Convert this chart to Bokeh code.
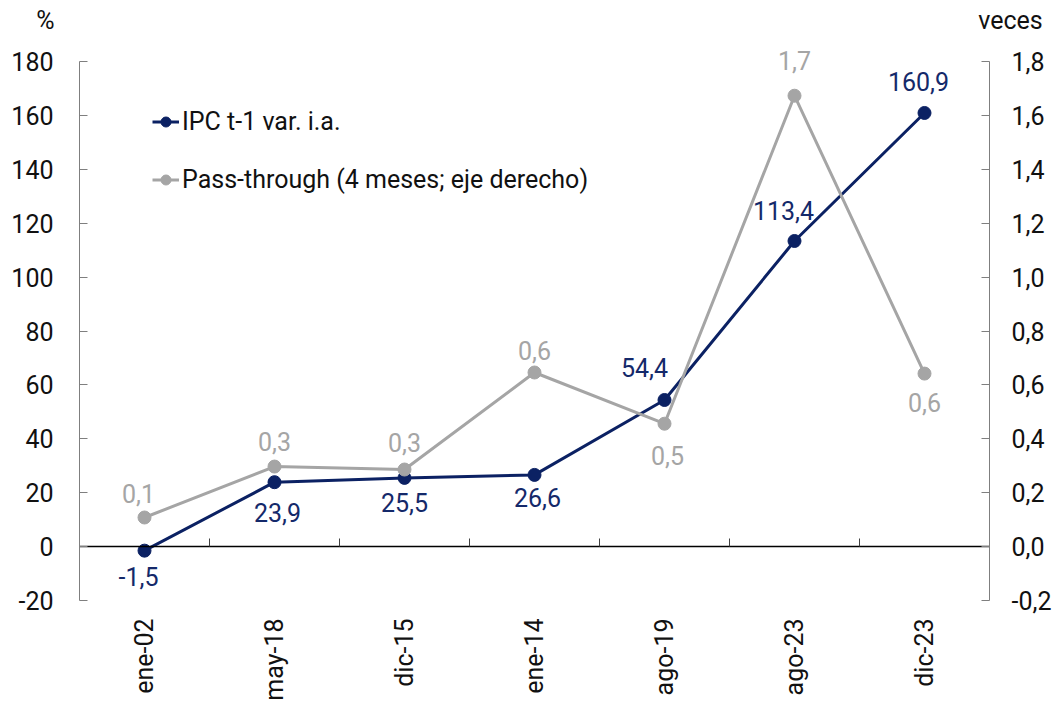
import math
from bokeh.plotting import figure
from bokeh.models import (Range1d, LinearAxis, Legend, LegendItem, Label,
                          FixedTicker, ColumnDataSource)
from bokeh.core.properties import value
from bokeh.embed import file_html
from bokeh.resources import INLINE

# ---- data ----
categories = ["ene-02", "may-18", "dic-15", "ene-14", "ago-19", "ago-23", "dic-23"]
ipc = [-1.5, 23.9, 25.5, 26.6, 54.4, 113.4, 160.9]
passthrough = [0.108, 0.297, 0.286, 0.646, 0.456, 1.673, 0.642]
ipc_labels = ["-1,5", "23,9", "25,5", "26,6", "54,4", "113,4", "160,9"]
pass_labels = ["0,1", "0,3", "0,3", "0,6", "0,5", "1,7", "0,6"]
left_ticks = [-20, 0, 20, 40, 60, 80, 100, 120, 140, 160, 180]
right_ticks = [-0.2, 0.0, 0.2, 0.4, 0.6, 0.8, 1.0, 1.2, 1.4, 1.6, 1.8]
LEFT_MIN, LEFT_MAX = -20, 180
RIGHT_MIN, RIGHT_MAX = -0.2, 1.8

# label offsets (screen px)
ipc_dx = [-6, 3, 0, 3, -20, -11, -6]
ipc_dy = [26, 30, 25, 23, -32, -30, -31]
pass_dx = [-6, 0, 0, 0, 3, 0, 0]
pass_dy = [-24, -25, -27, -22, 32, -35, 29]

NAVY = "#0b2163"
NAVY_TXT = "#14296a"
GRAY = "#a5a5a5"
AXIS = "#7f7f7f"
FONT = "Roboto"
FS = "25px"

# ---- layout (pixels) ----
W, H = 1056, 700
AX_L, AX_R, AX_T, AX_B = 79, 989, 61, 600   # plot area inside the canvas

n = len(categories)
xs = [i + 0.5 for i in range(n)]
pxu = (AX_R - AX_L) / n
pyu = (AX_B - AX_T) / (LEFT_MAX - LEFT_MIN)
x0 = -AX_L / pxu
x1 = n + (W - AX_R) / pxu
y1 = LEFT_MAX + AX_T / pyu
y0 = LEFT_MIN - (H - AX_B) / pyu
k = (RIGHT_MAX - RIGHT_MIN) / (LEFT_MAX - LEFT_MIN)

p = figure(width=W, height=H,
           x_range=Range1d(x0, x1), y_range=Range1d(y0, y1),
           output_backend="svg", toolbar_location=None,
           min_border=0, min_border_left=0, min_border_right=0,
           min_border_top=0, min_border_bottom=0,
           x_axis_location=None, y_axis_location=None)
p.outline_line_color = None
p.xgrid.visible = False
p.ygrid.visible = False
p.background_fill_color = "white"
p.border_fill_color = "white"
p.extra_y_ranges = {"right": Range1d(RIGHT_MIN + (y0 - LEFT_MIN) * k,
                                     RIGHT_MIN + (y1 - LEFT_MIN) * k)}

# left axis
la = LinearAxis(ticker=FixedTicker(ticks=left_ticks), fixed_location=0,
                bounds=(LEFT_MIN, LEFT_MAX))
la.major_label_overrides = {t: str(t) for t in left_ticks}
# right axis
ra = LinearAxis(y_range_name="right", ticker=FixedTicker(ticks=right_ticks),
                fixed_location=n, bounds=(RIGHT_MIN, RIGHT_MAX))
ra.major_label_overrides = {t: f"{t:.1f}".replace(".", ",") for t in right_ticks}
for ax in (la, ra):
    ax.axis_line_color = AXIS
    ax.major_tick_line_color = AXIS
    ax.major_tick_in = 8
    ax.major_tick_out = 0
    ax.minor_tick_line_color = None
    ax.major_label_text_font = FONT
    ax.major_label_text_font_size = FS
    ax.major_label_text_color = "#111111"
la.major_label_standoff = 26
ra.major_label_standoff = 22
p.add_layout(la, "left")
p.add_layout(ra, "right")

# bottom category labels
ba = LinearAxis(ticker=FixedTicker(ticks=xs), fixed_location=LEFT_MIN)
ba.major_label_overrides = {x: c for x, c in zip(xs, categories)}
ba.axis_line_color = None
ba.major_tick_line_color = None
ba.minor_tick_line_color = None
ba.major_tick_in = 0
ba.major_tick_out = 0
ba.major_label_orientation = math.pi / 2
ba.major_label_standoff = 18
ba.major_label_text_font = FONT
ba.major_label_text_font_size = FS
ba.major_label_text_color = "#111111"
p.add_layout(ba, "below")

# zero line with category separator ticks
za = LinearAxis(ticker=FixedTicker(ticks=list(range(1, n))), fixed_location=0,
                bounds=(0, n))
za.axis_line_color = "#000000"
za.axis_line_width = 1.5
za.major_tick_line_color = "#404040"
za.major_tick_in = 8
za.major_tick_out = 0
za.minor_tick_line_color = None
za.major_label_text_color = None
za.major_label_text_font_size = "1px"
p.add_layout(za, "below")

# series
l1 = p.line(xs, ipc, line_color=NAVY, line_width=3)
s1 = p.scatter(xs, ipc, size=13, fill_color=NAVY, line_color=NAVY)
l2 = p.line(xs, passthrough, line_color=GRAY, line_width=3, y_range_name="right")
s2 = p.scatter(xs, passthrough, size=13, fill_color=GRAY, line_color=GRAY, y_range_name="right")

# data labels
src1 = ColumnDataSource(dict(x=xs, y=ipc, t=ipc_labels, dx=ipc_dx, dy=ipc_dy))
p.text(x="x", y="y", text="t", x_offset="dx", y_offset="dy", source=src1,
       text_font=value(FONT), text_font_size=value(FS), text_color=NAVY_TXT,
       text_align="center", text_baseline="middle")
src2 = ColumnDataSource(dict(x=xs, y=passthrough, t=pass_labels, dx=pass_dx, dy=pass_dy))
p.text(x="x", y="y", text="t", x_offset="dx", y_offset="dy", source=src2,
       y_range_name="right",
       text_font=value(FONT), text_font_size=value(FS), text_color=GRAY,
       text_align="center", text_baseline="middle")

# unit titles (screen px from the plot's bottom-left)
p.add_layout(Label(x=45, y=H - 20, x_units="screen", y_units="screen", text="%",
                   text_font=FONT, text_font_size=FS, text_color="#111111",
                   text_align="center", text_baseline="middle"))
p.add_layout(Label(x=1010, y=H - 20, x_units="screen", y_units="screen", text="veces",
                   text_font=FONT, text_font_size=FS, text_color="#111111",
                   text_align="center", text_baseline="middle"))

legend = Legend(items=[LegendItem(label="IPC t-1 var. i.a.", renderers=[l1, s1]),
                       LegendItem(label="Pass-through (4 meses; eje derecho)", renderers=[l2, s2])],
                location=(152, 506), orientation="vertical")
legend.background_fill_alpha = 0
legend.border_line_color = None
legend.label_text_font = FONT
legend.label_text_font_size = FS
legend.label_text_color = "#111111"
legend.glyph_width = 27
legend.glyph_height = 25
legend.label_height = 25
legend.label_standoff = 3
legend.spacing = 29
legend.padding = 0
legend.margin = 0
p.add_layout(legend, "center")

open("out.html", "w").write(file_html(p, INLINE))
